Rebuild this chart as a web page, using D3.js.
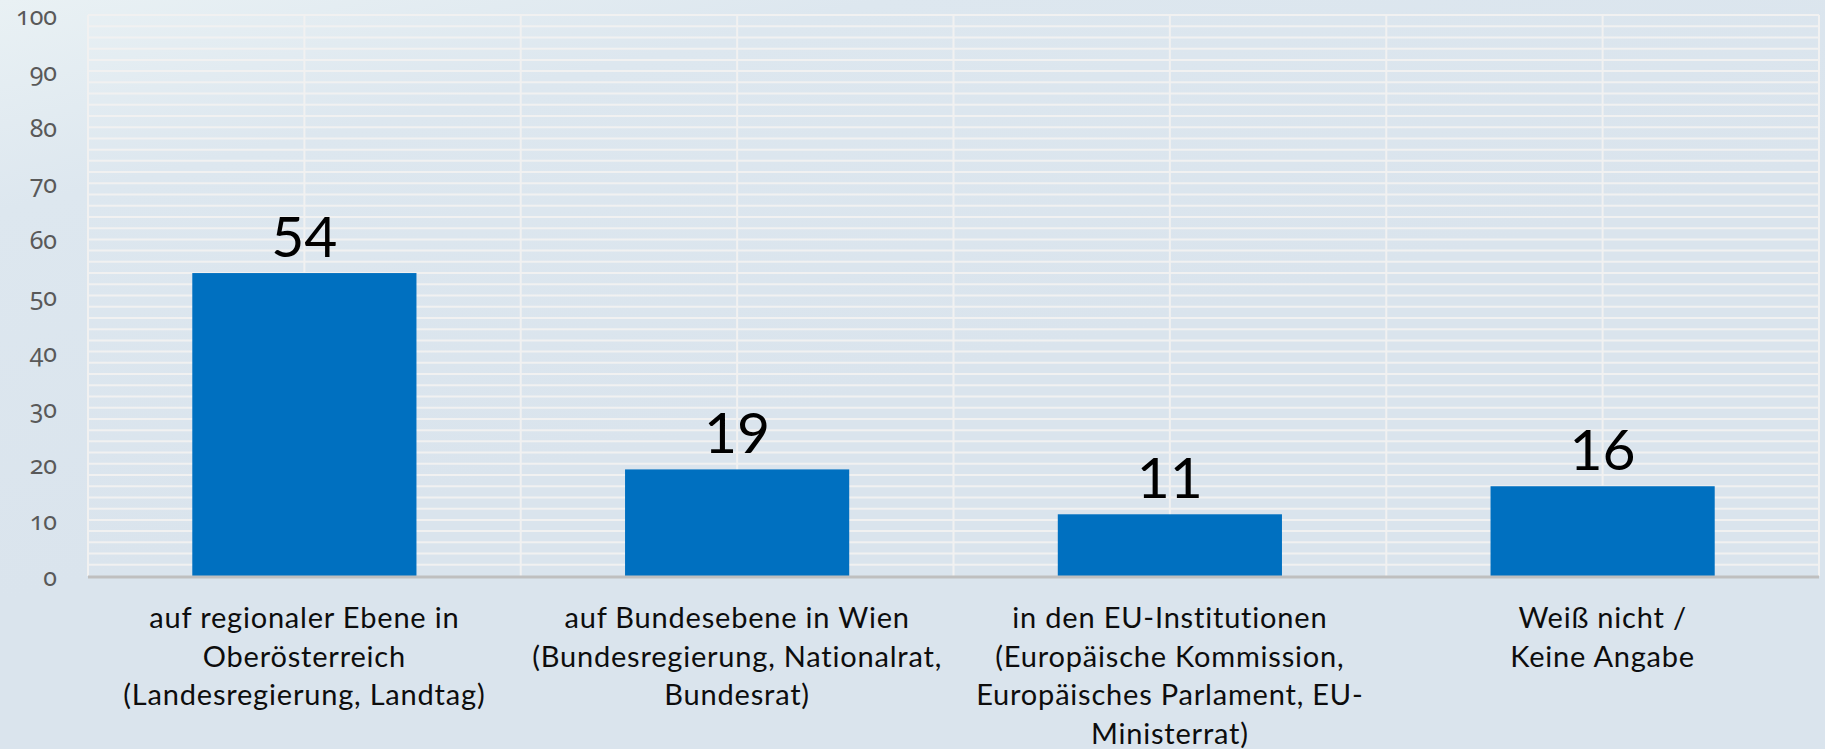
<!DOCTYPE html>
<html>
<head>
<meta charset="utf-8">
<script src="https://cdn.jsdelivr.net/npm/d3@7"></script>
<style>
  html, body { margin: 0; padding: 0; }
  body { width: 1825px; height: 749px; overflow: hidden; }
  text { font-family: Lato, "Open Sans", sans-serif; }
</style>
</head>
<body>
<svg id="chart" width="1825" height="749"></svg>
<script>
const categories = [
  ["auf regionaler Ebene in", "Oberösterreich", "(Landesregierung, Landtag)"],
  ["auf Bundesebene in Wien", "(Bundesregierung, Nationalrat,", "Bundesrat)"],
  ["in den EU-Institutionen", "(Europäische Kommission,", "Europäisches Parlament, EU-", "Ministerrat)"],
  ["Weiß nicht /", "Keine Angabe"]
];
const categoryKeys = ["regional", "bund", "eu", "wn"];
const values = [54, 19, 11, 16];
const yTicks = [0, 10, 20, 30, 40, 50, 60, 70, 80, 90, 100];
const minorGrid = d3.range(2, 101, 2);

const W = 1825, H = 749;
const margin = { left: 88, right: 6, top: 15, bottom: 173 };

const svg = d3.select("#chart");

const defs = svg.append("defs");
const grad = defs.append("linearGradient").attr("id", "bg")
  .attr("x1", "0").attr("y1", "0").attr("x2", "0.35").attr("y2", "0.6");
grad.append("stop").attr("offset", "0").attr("stop-color", "#e9f1f4");
grad.append("stop").attr("offset", "0.35").attr("stop-color", "#dde7ef");
grad.append("stop").attr("offset", "1").attr("stop-color", "#dae4ed");
svg.append("rect").attr("width", W).attr("height", H).attr("fill", "url(#bg)");

const x = d3.scaleBand()
  .domain(categoryKeys)
  .range([margin.left, W - margin.right])
  .paddingInner(0.482)
  .paddingOuter(0.241);

const y = d3.scaleLinear()
  .domain([0, 100])
  .range([H - margin.bottom, margin.top]);

const step = x.step();
const x0 = x.range()[0];

// horizontal minor gridlines
svg.append("g").selectAll("line").data(minorGrid).join("line")
  .attr("x1", x0).attr("x2", W - margin.right)
  .attr("y1", d => y(d)).attr("y2", d => y(d))
  .attr("stroke", "#f1f1f1").attr("stroke-width", 2);

// vertical gridlines at category boundaries and centres
const vIdx = d3.range(0, categoryKeys.length * 2 + 1);
svg.append("g").selectAll("line").data(vIdx).join("line")
  .attr("x1", i => x0 + i * step / 2).attr("x2", i => x0 + i * step / 2)
  .attr("y1", y(100)).attr("y2", y(0))
  .attr("stroke", "#f1f1f1").attr("stroke-width", 2);

// y tick labels
svg.append("g").selectAll("text").data(yTicks).join("text")
  .attr("x", 57).attr("y", d => y(d) + 10)
  .attr("text-anchor", "end")
  .attr("font-size", 25)
  .style("font-family", "'Noto Sans', Lato, sans-serif")
  .style("font-variant-numeric", "oldstyle-nums")
  .style("font-feature-settings", "'onum' 1")
  .attr("fill", "#595959")
  .text(d => d);

// bars
svg.append("g").selectAll("rect").data(values).join("rect")
  .attr("x", (d, i) => x(categoryKeys[i]))
  .attr("width", x.bandwidth())
  .attr("y", d => y(d))
  .attr("height", d => y(0) - y(d))
  .attr("fill", "#0070c0");

// axis line
svg.append("line")
  .attr("x1", x0).attr("x2", W - margin.right)
  .attr("y1", y(0) + 1).attr("y2", y(0) + 1)
  .attr("stroke", "#bfbfbf").attr("stroke-width", 3);

// data labels
svg.append("g").selectAll("text").data(values).join("text")
  .attr("x", (d, i) => x(categoryKeys[i]) + x.bandwidth() / 2)
  .attr("y", d => y(d) - 16)
  .attr("text-anchor", "middle")
  .attr("font-size", 57)
  .attr("fill", "#000")
  .text(d => d);

// category labels
const cat = svg.append("g").selectAll("text").data(categories).join("text")
  .attr("text-anchor", "middle")
  .attr("font-size", 29)
  .attr("letter-spacing", 0.8)
  .attr("fill", "#0d0d0d");
cat.each(function(lines, i) {
  const cx = x(categoryKeys[i]) + x.bandwidth() / 2;
  d3.select(this).selectAll("tspan").data(lines).join("tspan")
    .attr("x", cx)
    .attr("y", (l, j) => y(0) + 52 + j * 38.7)
    .text(l => l);
});
</script>
</body>
</html>
